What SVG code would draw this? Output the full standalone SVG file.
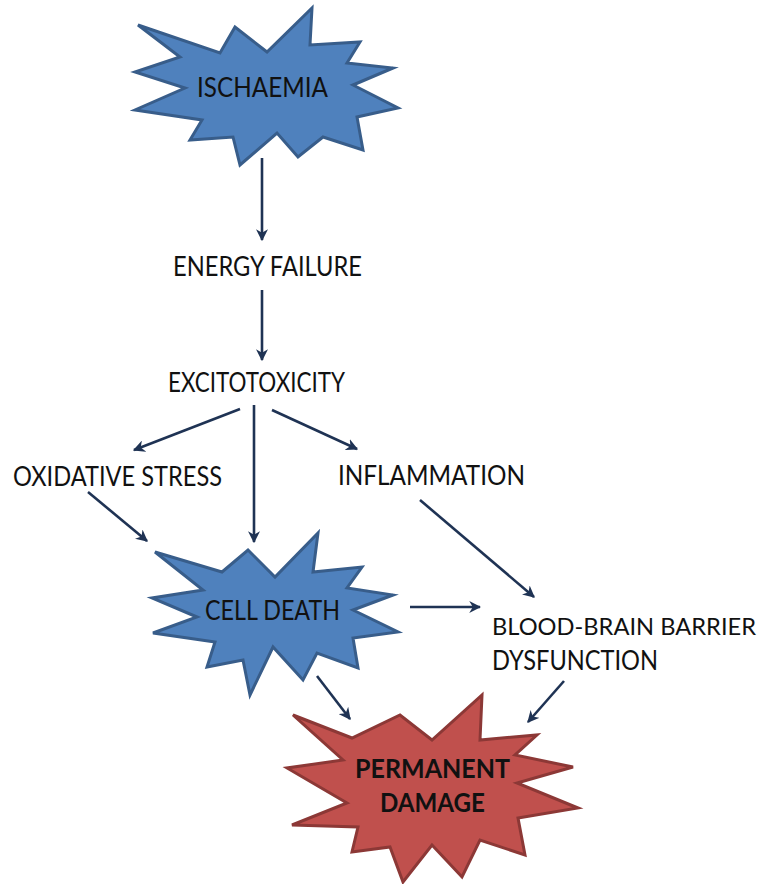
<svg xmlns="http://www.w3.org/2000/svg" width="768" height="884" viewBox="0 0 768 884">
<defs>
<style>
.lbl{font-family:Lato,"Open Sans","Liberation Sans",sans-serif;font-size:26px;fill:#111}
.sm{font-size:24px}
.b{font-weight:bold}
.blue{fill:#4F81BD;stroke:#385D8A;stroke-width:3;stroke-linejoin:miter}
.red{fill:#C0504D;stroke:#8C3836;stroke-width:3}
.c{stroke:#1F3354;stroke-width:2.6;fill:none;marker-end:url(#ah)}
</style>
<marker id="ah" viewBox="0 0 10 10" refX="9" refY="5" markerWidth="4.6" markerHeight="4.6" orient="auto" markerUnits="strokeWidth">
<path d="M0,0 L10,5 L0,10 L3,5 Z" fill="#1F3354"/>
</marker>
</defs>
<rect width="768" height="884" fill="#fff"/>
<g id="ischaemia">
<polygon class="blue" points="138,25 220,53 235,27 267,52 312,8 310,45 360,42 347,63 393,68 353,85 398,108 357,117 363,150 323,137 298,157 277,133 240,165 233,137 190,140 202,120 135,110 185,88 135,72 180,57"/>
<text class="lbl" x="197" y="97" textLength="131" lengthAdjust="spacingAndGlyphs">ISCHAEMIA</text>
</g>
<g id="energy">
<text class="lbl" x="173" y="276" textLength="189" lengthAdjust="spacingAndGlyphs">ENERGY FAILURE</text>
</g>
<g id="excito">
<text class="lbl" x="168" y="392" textLength="177" lengthAdjust="spacingAndGlyphs">EXCITOTOXICITY</text>
</g>
<g id="oxidative">
<text class="lbl" x="13" y="486" textLength="209" lengthAdjust="spacingAndGlyphs">OXIDATIVE STRESS</text>
</g>
<g id="inflammation">
<text class="lbl" x="338" y="485" textLength="187" lengthAdjust="spacingAndGlyphs">INFLAMMATION</text>
</g>
<g id="celldeath">
<polygon class="blue" points="155,552 222,572 248,550 275,577 318,533 313,572 362,567 347,588 393,595 353,610 398,632 353,638 358,668 317,653 303,680 273,647 250,695 243,660 207,667 215,642 153,633 197,617 152,598 203,590"/>
<text class="lbl" x="205" y="620" textLength="135" lengthAdjust="spacingAndGlyphs">CELL DEATH</text>
</g>
<g id="bbb">
<text class="lbl sm" x="492" y="635" textLength="264" lengthAdjust="spacingAndGlyphs">BLOOD-BRAIN BARRIER</text>
<text class="lbl" x="492" y="670" textLength="166" lengthAdjust="spacingAndGlyphs">DYSFUNCTION</text>
</g>
<g id="permanent">
<polygon class="red" points="293,715 352,738 400,715 432,740 482,695 480,740 537,735 515,755 573,767 517,783 578,808 518,818 525,855 480,840 462,877 432,845 403,882 390,847 352,852 358,827 292,825 347,803 287,768 343,760"/>
<text class="lbl b" x="355" y="778" textLength="155" lengthAdjust="spacingAndGlyphs">PERMANENT</text>
<text class="lbl b" x="380" y="812" textLength="105" lengthAdjust="spacingAndGlyphs">DAMAGE</text>
</g>
<g id="connectors">
<line class="c" x1="262" y1="158" x2="262" y2="240"/>
<line class="c" x1="262" y1="290" x2="262" y2="360"/>
<line class="c" x1="240" y1="409" x2="134" y2="450"/>
<line class="c" x1="254" y1="405" x2="254" y2="542"/>
<line class="c" x1="272" y1="410" x2="357" y2="449"/>
<line class="c" x1="88" y1="492" x2="147" y2="541"/>
<line class="c" x1="420" y1="500" x2="534" y2="597"/>
<line class="c" x1="410" y1="607" x2="480" y2="607"/>
<line class="c" x1="317" y1="676" x2="350" y2="719"/>
<line class="c" x1="564" y1="681" x2="528" y2="722"/>
</g>
</svg>
